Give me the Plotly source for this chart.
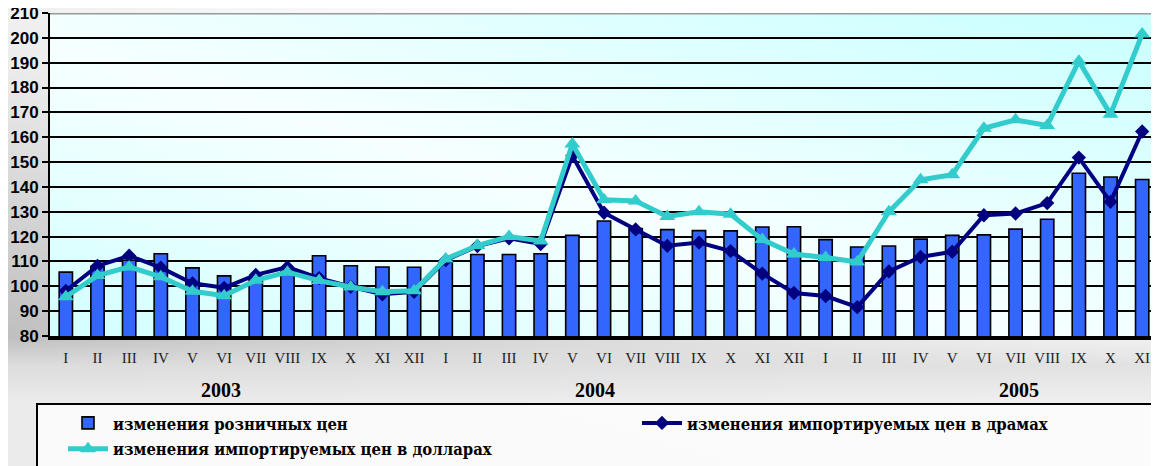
import base64
import plotly.graph_objects as go

months = ["I", "II", "III", "IV", "V", "VI", "VII", "VIII", "IX", "X", "XI", "XII",
          "I", "II", "III", "IV", "V", "VI", "VII", "VIII", "IX", "X", "XI", "XII",
          "I", "II", "III", "IV", "V", "VI", "VII", "VIII", "IX", "X", "XI"]
years = ["2003", "2004", "2005"]
year_label_pos = [4.9, 16.7, 30.1]

retail = [105.7, 108.0, 110.5, 113.1, 107.4, 104.2, 103.5, 106.0, 112.3, 108.3, 107.8, 107.7,
          109.7, 112.8, 112.8, 113.1, 120.5, 126.3, 123.2, 122.8, 122.4, 122.3, 123.9, 124.0,
          118.8, 115.8, 116.2, 119.0, 120.5, 120.7, 123.0, 127.0, 145.5, 144.0, 143.0]
drams = [98.2, 108.2, 112.3, 107.5, 101.2, 99.4, 104.6, 107.7, 103.3, 99.8, 96.8, 97.8,
         110.5, 116.2, 119.3, 117.0, 152.5, 129.6, 122.9, 116.3, 117.6, 114.2, 105.1, 97.3,
         96.1, 91.6, 106.0, 111.8, 113.9, 128.6, 129.3, 133.5, 151.8, 134.0, 162.3]
dollars = [95.8, 104.3, 107.8, 103.8, 98.0, 96.2, 102.4, 105.7, 102.3, 99.7, 97.8, 98.2,
           111.0, 116.4, 120.0, 118.2, 157.3, 134.8, 134.3, 128.1, 130.0, 129.0, 118.8, 113.0,
           111.6, 109.8, 130.0, 142.9, 144.9, 163.6, 167.0, 164.7, 190.6, 169.2, 201.5]

series_names = ["изменения розничных цен",
                "изменения импортируемых цен в драмах",
                "изменения импортируемых цен в долларах"]

# the page body has an 8px margin, so the figure is sized to the visible area
W, H = 1151, 458
ML, MR, MT, MB = 42, 1, 5, 130
PW, PH = W - ML - MR, H - MT - MB

x = list(range(len(months)))


def svg_uri(svg):
    return "data:image/svg+xml;base64," + base64.b64encode(svg.encode()).decode()


def legend_label(name):
    return f"<span style='font-size:16.5px'>{name}</span>"


paper_svg = f"""<svg xmlns='http://www.w3.org/2000/svg' width='{W}' height='{H}' viewBox='0 0 {W} {H}' preserveAspectRatio='none'>
<defs><linearGradient id='g' x1='0' y1='0.75' x2='0.55' y2='0'>
<stop offset='0' stop-color='#bdbdbd'/><stop offset='0.55' stop-color='#ececec'/><stop offset='1' stop-color='#ffffff'/>
</linearGradient>
<linearGradient id='b' x1='0' y1='0' x2='0' y2='1'>
<stop offset='0' stop-color='#ffffff' stop-opacity='0'/><stop offset='0.72' stop-color='#e4e4e4' stop-opacity='0.0'/>
<stop offset='0.78' stop-color='#e0e0e0' stop-opacity='0.9'/><stop offset='0.86' stop-color='#f0f0f0' stop-opacity='0.9'/><stop offset='1' stop-color='#f0f0f0' stop-opacity='0.9'/>
</linearGradient></defs>
<rect width='{W}' height='{H}' fill='url(#g)'/>
<rect width='{W}' height='{H}' fill='url(#b)'/>
</svg>"""

plot_svg = f"""<svg xmlns='http://www.w3.org/2000/svg' width='{PW}' height='{PH}' viewBox='0 0 {PW} {PH}' preserveAspectRatio='none'>
<defs><linearGradient id='p' x1='0' y1='1' x2='1' y2='0'>
<stop offset='0' stop-color='#d2ffff'/><stop offset='0.45' stop-color='#f6ffff'/><stop offset='1' stop-color='#c8ffff'/>
</linearGradient></defs>
<rect width='{PW}' height='{PH}' fill='url(#p)'/>
</svg>"""

fig = go.Figure()

fig.add_trace(go.Bar(
    x=x, y=retail, name=legend_label(series_names[0]),
    marker=dict(color="#3366ff", line=dict(color="#000000", width=1.6)),
    width=0.42,
))
fig.add_trace(go.Scatter(
    x=x, y=drams, name=legend_label(series_names[1]), mode="lines+markers",
    line=dict(color="#000080", width=4),
    marker=dict(symbol="diamond", size=11, color="#000080"),
    cliponaxis=False,
))
fig.add_trace(go.Scatter(
    x=x, y=dollars, name=legend_label(series_names[2]), mode="lines+markers",
    line=dict(color="#33cccc", width=5),
    marker=dict(symbol="triangle-up", size=14, color="#33cccc"),
    cliponaxis=False,
))
# boundary dots on the category axis
bounds = [i - 0.5 for i in range(len(months) + 1)]
fig.add_trace(go.Scatter(
    x=bounds, y=[78.3] * len(bounds), mode="markers", showlegend=False,
    marker=dict(size=8, color="#000000"), cliponaxis=False, hoverinfo="skip",
))

for yr, pos in zip(years, year_label_pos):
    fig.add_annotation(x=pos, xref="x", y=-54 / PH, yref="paper", yanchor="middle",
                       text=yr, showarrow=False,
                       font=dict(family="Liberation Serif", size=20, color="#000000", weight="bold"))

fig.add_shape(type="line", xref="paper", yref="y", x0=0, x1=1, y0=210, y1=210,
              line=dict(color="#999999", width=3))

fig.update_layout(
    width=W, height=H,
    margin=dict(l=ML, r=MR, t=MT, b=MB, autoexpand=False),
    paper_bgcolor="#ffffff",
    plot_bgcolor="rgba(0,0,0,0)",
    bargap=0.58,
    showlegend=True,
    images=[
        dict(source=svg_uri(paper_svg), xref="paper", yref="paper",
             x=-ML / PW, y=1 + MT / PH, sizex=W / PW, sizey=H / PH,
             sizing="stretch", layer="below", xanchor="left", yanchor="top"),
        dict(source=svg_uri(plot_svg), xref="paper", yref="paper",
             x=0, y=1, sizex=1, sizey=1,
             sizing="stretch", layer="below", xanchor="left", yanchor="top"),
    ],
    legend=dict(
        orientation="h", xref="paper", x=-14 / PW, xanchor="left",
        yref="paper", y=-67 / PH, yanchor="top",
        bgcolor="rgba(252,252,252,0.9)", bordercolor="#000000", borderwidth=2,
        font=dict(family="DejaVu Serif Condensed, DejaVu Serif", size=17.5,
                  color="#000000", weight="bold"),
        entrywidth=494, indentation=25, tracegroupgap=0, itemwidth=40,
    ),
    xaxis=dict(
        range=[-0.5, len(months) - 0.5],
        tickmode="array", tickvals=x, ticktext=months,
        tickfont=dict(family="Liberation Serif", size=15, color="#222222"),
        ticks="outside", ticklen=5, tickcolor="rgba(0,0,0,0)",
        showline=True, linecolor="#000000", linewidth=4,
        showgrid=False, zeroline=False, fixedrange=True, automargin=False,
    ),
    yaxis=dict(
        range=[80, 210], tickmode="linear", tick0=80, dtick=10,
        tickfont=dict(family="Liberation Sans", size=17, color="#000000", weight="bold"),
        ticks="outside", ticklen=6, tickwidth=2, tickcolor="#000000",
        ticklabeloverflow="allow",
        showline=True, linecolor="#000000", linewidth=2,
        showgrid=True, gridcolor="#000000", gridwidth=2,
        zeroline=False, fixedrange=True, automargin=False,
    ),
)

fig.write_html("out.html")
